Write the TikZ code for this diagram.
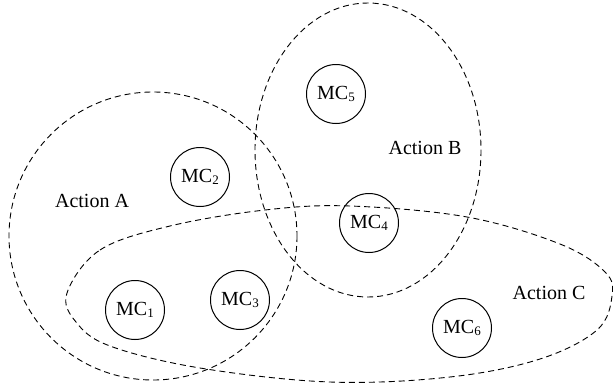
\documentclass[tikz,border=0pt]{standalone}
\usepackage{fontspec}
\setmainfont{Liberation Serif}
\begin{document}
\begin{tikzpicture}[x=1pt,y=-1pt,
  region/.style={draw=black,line width=0.9pt,dash pattern=on 6pt off 4pt},
  mc/.style={draw=black,line width=1pt,circle,minimum size=59pt,inner sep=0pt,font=\fontsize{20}{22}\selectfont},
  lbl/.style={font=\fontsize{20}{22}\selectfont,inner sep=0pt}]
\useasboundingbox (0,0) rectangle (613,389);
% regions
\draw[region] (153,236) ellipse [x radius=144, y radius=144];
\draw[region] (368,150) ellipse [x radius=113, y radius=147];
\draw[region] plot[smooth cycle,tension=0.6] coordinates {
 (67,293) (100,250) (170,226) (265,210) (350,206) (467,217) (560,244)
 (605,272) (612,296) (597,330) (540,359) (450,377) (330,382) (200,368)
 (110,346) (76,322)};
% machines
\newcommand{\mcsub}[1]{MC{\fontsize{13}{13}\selectfont\raisebox{-2.5pt}{#1}}}
\node[mc] (mc1) at (135,310) {\mcsub{1}};
\node[mc] (mc2) at (200,177) {\mcsub{2}};
\node[mc] (mc3) at (240,300) {\mcsub{3}};
\node[mc] (mc4) at (369,223) {\mcsub{4}};
\node[mc] (mc5) at (336,94) {\mcsub{5}};
\node[mc] (mc6) at (462,328) {\mcsub{6}};
% labels
\node[lbl] (la) at (92,201) {Action A};
\node[lbl] (lb) at (425,148) {Action B};
\node[lbl] (lc) at (549,293) {Action C};
\end{tikzpicture}
\end{document}
